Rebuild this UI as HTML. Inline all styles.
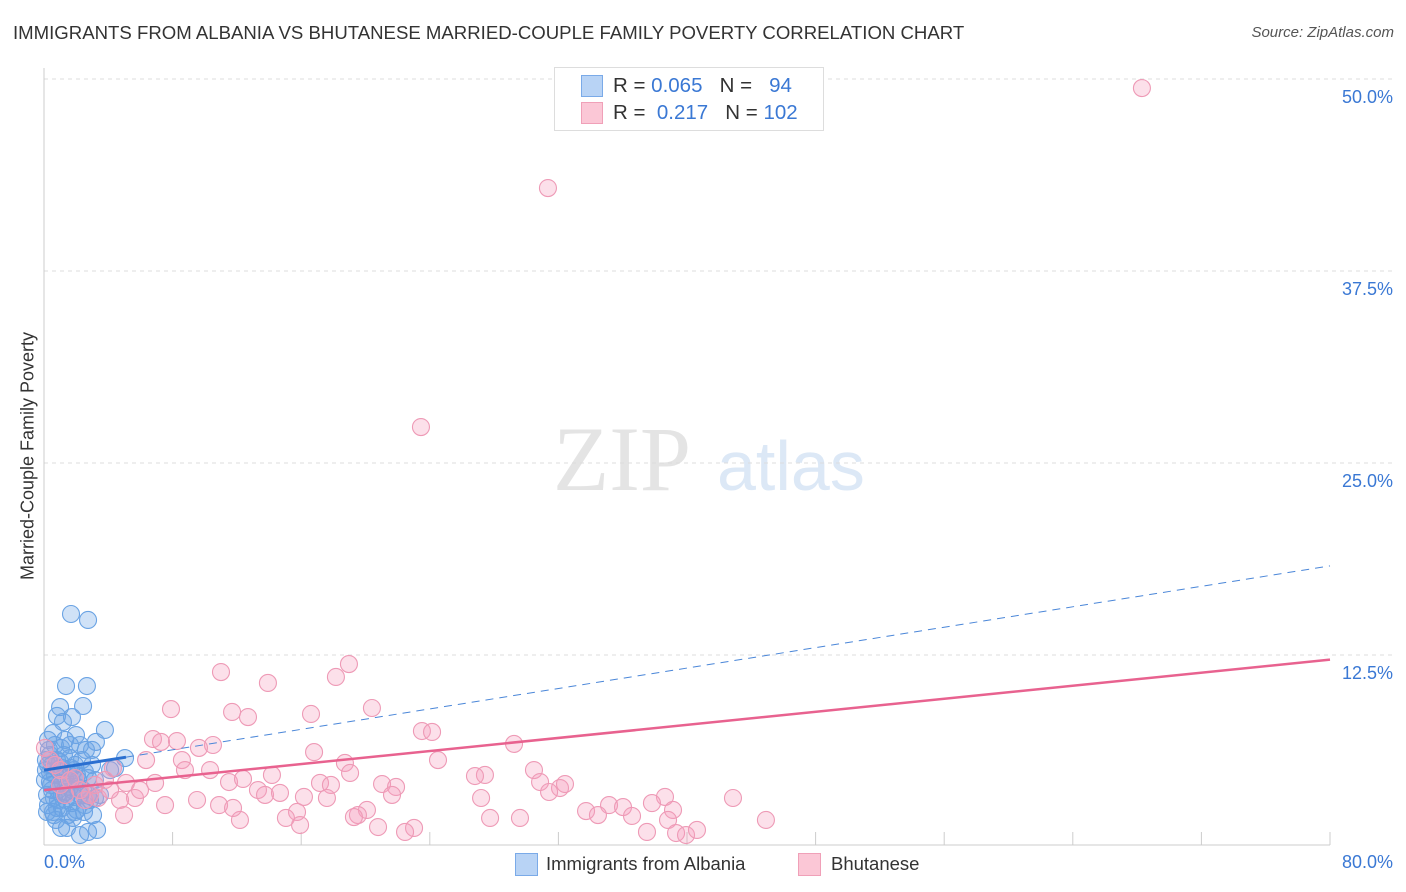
<!DOCTYPE html>
<html><head><meta charset="utf-8"><style>
body{margin:0;background:#fff;font-family:"Liberation Sans",sans-serif;}
#wrap{position:relative;width:1406px;height:892px;overflow:hidden;}
.t{position:absolute;white-space:nowrap;}
</style></head><body>
<div id="wrap">
<div class="t" style="left:13px;top:22px;font-size:18.6px;color:#333;">IMMIGRANTS FROM ALBANIA VS BHUTANESE MARRIED-COUPLE FAMILY POVERTY CORRELATION CHART</div>
<div class="t" style="right:12px;top:24px;font-size:15px;color:#555;font-style:italic;">Source: ZipAtlas.com</div>
<div class="t" style="left:28px;top:456px;font-size:18px;color:#333;transform:translate(-50%,-50%) rotate(-90deg);">Married-Couple Family Poverty</div>
<svg id="plot" width="1406" height="892" style="position:absolute;left:0;top:0"></svg>
<div style="position:absolute;left:554px;top:67px;width:268px;height:62px;border:1px solid #ddd;background:#fff;"></div>
<div style="position:absolute;left:581px;top:75px;width:20px;height:20px;background:#b8d3f5;border:1px solid #7aaae8;"></div>
<div style="position:absolute;left:581px;top:102px;width:20px;height:20px;background:#fbc7d6;border:1px solid #f0a0b8;"></div>
<div class="t" style="left:613px;top:74px;font-size:20.5px;color:#333;">R = <span style="color:#3a78d4">0.065</span>&nbsp;&nbsp;&nbsp;N = &nbsp;&nbsp;<span style="color:#3a78d4">94</span></div>
<div class="t" style="left:613px;top:101px;font-size:20.5px;color:#333;">R = &nbsp;<span style="color:#3a78d4">0.217</span>&nbsp;&nbsp;&nbsp;N = <span style="color:#3a78d4">102</span></div>
<div class="t" style="left:44px;top:852px;font-size:18px;color:#3a78d4;">0.0%</div>
<div class="t" style="right:13px;top:852px;font-size:18px;color:#3a78d4;">80.0%</div>
<div style="position:absolute;left:515px;top:853px;width:21px;height:21px;background:#b8d3f5;border:1px solid #7aaae8;"></div>
<div class="t" style="left:546px;top:853px;font-size:18.5px;color:#333;">Immigrants from Albania</div>
<div style="position:absolute;left:798px;top:853px;width:21px;height:21px;background:#fbc7d6;border:1px solid #f0a0b8;"></div>
<div class="t" style="left:831px;top:853px;font-size:18.5px;color:#333;">Bhutanese</div>
</div>
<script>
const yTicks=[12.5,25,37.5,50];
const yTickLabels=["12.5%","25.0%","37.5%","50.0%"];
const xTicks=[8,16,24,32,40,48,56,64,72,80];
const blueX=[1.68,2.74,1.37,2.67,2.43,1.0,0.81,1.74,1.18,3.79,0.56,1.99,3.23,2.24,1.06,2.61,5.04,2.99,0.37,0.81,1.62,0.25,1.12,1.87,2.55,0.68,1.31,2.12,0.37,1.0,1.62,2.74,4.42,0.5,1.37,2.24,3.17,0.87,1.74,0.25,1.12,2.05,0.56,1.49,2.86,0.06,0.12,0.19,0.75,1.43,2.24,3.3,2.74,1.93,3.48,4.11,0.31,0.68,1.31,1.93,2.36,0.87,1.49,1.18,0.62,1.74,0.37,1.0,2.18,2.55,0.25,1.62,2.99,0.81,1.37,1.87,0.44,2.43,1.12,2.05,1.56,0.87,0.12,0.5,1.24,1.68,2.74,3.17,0.62,1.06,1.8,2.49,0.19,3.05];
const blueY=[15.17,14.78,10.48,10.48,9.18,9.11,8.53,8.46,8.14,7.62,7.42,7.29,6.84,6.64,6.45,6.32,5.79,6.32,5.99,5.66,5.79,5.34,5.14,5.01,4.88,4.69,4.49,4.36,4.23,4.04,3.91,4.49,5.14,3.71,3.58,3.39,3.19,3.06,2.86,2.73,2.54,2.41,2.28,2.08,3.06,4.36,5.01,3.39,1.76,1.24,0.78,1.11,0.98,2.28,3.39,5.01,6.32,6.64,6.97,5.34,5.66,3.71,4.82,4.17,3.19,3.71,4.88,5.53,3.84,2.73,6.97,6.64,5.34,2.54,3.06,3.26,4.04,3.71,3.39,4.69,4.36,5.01,5.66,5.34,5.99,5.14,3.39,4.36,2.08,1.24,1.89,2.28,2.28,2.08];
const pinkX=[68.3,31.35,23.45,18.97,11.01,18.16,13.93,7.9,11.7,12.69,16.61,20.4,23.51,24.14,6.78,7.28,8.27,10.51,9.64,8.58,24.51,29.24,16.8,18.72,19.04,30.48,27.43,26.81,6.35,8.77,10.33,4.29,3.79,5.1,6.91,11.51,12.38,14.18,17.17,17.85,21.03,21.9,30.86,32.1,32.41,31.42,5.66,4.73,3.36,2.86,9.52,10.89,13.31,13.75,14.68,16.17,17.6,20.09,21.65,27.19,38.63,42.86,37.82,35.15,36.02,33.72,34.46,36.58,39.13,38.82,27.75,29.61,19.53,19.28,15.74,15.05,12.19,7.53,4.98,20.78,23.02,22.46,37.51,39.32,39.94,40.62,44.91,15.93,11.76,4.11,2.24,1.62,1.0,0.68,0.37,1.31,1.93,0.06,2.55,3.17,5.97,1.0];
const pinkY=[49.41,42.9,27.34,11.91,11.39,11.07,10.68,8.98,8.79,8.46,8.66,9.05,7.55,7.49,7.03,6.84,6.9,6.64,6.45,5.66,5.66,6.71,6.18,5.47,4.82,5.01,4.69,4.62,5.66,5.01,5.01,5.14,4.36,4.17,4.17,4.23,4.43,4.69,4.17,4.04,4.1,3.91,4.23,3.84,4.1,3.58,3.19,3.06,3.19,3.39,3.06,2.73,3.71,3.39,3.52,3.26,3.19,2.41,3.39,3.19,3.26,3.19,2.86,2.73,2.6,2.34,2.08,2.02,2.41,1.76,1.89,1.89,2.08,1.95,2.28,1.89,1.76,2.73,2.08,1.3,1.24,0.98,0.98,0.91,0.78,1.11,1.76,1.43,2.54,3.71,3.71,4.36,5.01,5.34,5.66,3.39,4.49,6.45,3.06,4.04,3.71,4.04];
const blueTrend=[5.0,18.3];   // y at x=0, x=80
const pinkTrend=[3.7,12.2];
const blueSolidEnd=5.1;

const X0=44,X1=1330,Y0=847,Y1=79;
const sx=v=>X0+v/80*(X1-X0);
const sy=v=>Y0-v/50*(Y0-Y1);
const svg=document.getElementById('plot');
const NS='http://www.w3.org/2000/svg';
function mk(tag,attrs){const e=document.createElementNS(NS,tag);for(const k in attrs)e.setAttribute(k,attrs[k]);svg.appendChild(e);return e;}

let w=mk('text',{x:553,y:490,'font-size':92,'font-family':'Liberation Serif, serif',fill:'#e4e4e4'});w.textContent='ZIP';


let w2=mk('text',{x:717,y:490,'font-size':70,'font-family':'Liberation Sans, sans-serif',fill:'#dce8f6'});w2.textContent='atlas';



yTicks.forEach((t,i)=>{
  const g=mk('line',{x1:X0,x2:1393,y1:sy(t),y2:sy(t),stroke:'#ddd','stroke-dasharray':'4,4'});
  
  
  const l=mk('text',{x:1393,y:sy(t)+24,'text-anchor':'end','font-size':18,fill:'#3a78d4','font-family':'Liberation Sans, sans-serif'});
  l.textContent=yTickLabels[i];
  
  
});
let ax=mk('line',{x1:X0,x2:X0,y1:68,y2:845,stroke:'#ccc'});


let bx=mk('line',{x1:X0,x2:X1,y1:845,y2:845,stroke:'#ccc'});


xTicks.forEach(t=>{
  const k=mk('line',{x1:sx(t),x2:sx(t),y1:832,y2:845,stroke:'#ccc'});
  
  
});

const ty=(tr,x)=>tr[0]+(tr[1]-tr[0])*x/80;
blueX.forEach((x,i)=>{
  const c=mk('circle',{cx:sx(x),cy:sy(blueY[i]),r:8.5,fill:'rgba(110,165,230,0.32)',stroke:'#6aa3e4','stroke-width':1.1});
  
  
});
pinkX.forEach((x,i)=>{
  const c=mk('circle',{cx:sx(x),cy:sy(pinkY[i]),r:8.5,fill:'rgba(245,160,190,0.32)',stroke:'#ee9ab6','stroke-width':1.1});
  
  
});
let bd=mk('line',{x1:sx(blueSolidEnd),y1:sy(ty(blueTrend,blueSolidEnd)),x2:sx(80),y2:sy(ty(blueTrend,80)),stroke:'#4a86d8','stroke-width':1,'stroke-dasharray':'8,6'});


let bs=mk('line',{x1:sx(0),y1:sy(ty(blueTrend,0)),x2:sx(blueSolidEnd),y2:sy(ty(blueTrend,blueSolidEnd)),stroke:'#2a6fd0','stroke-width':3});


let ps=mk('line',{x1:sx(0),y1:sy(ty(pinkTrend,0)),x2:sx(80),y2:sy(ty(pinkTrend,80)),stroke:'#e8628f','stroke-width':2.5});


</script>
</body></html>
